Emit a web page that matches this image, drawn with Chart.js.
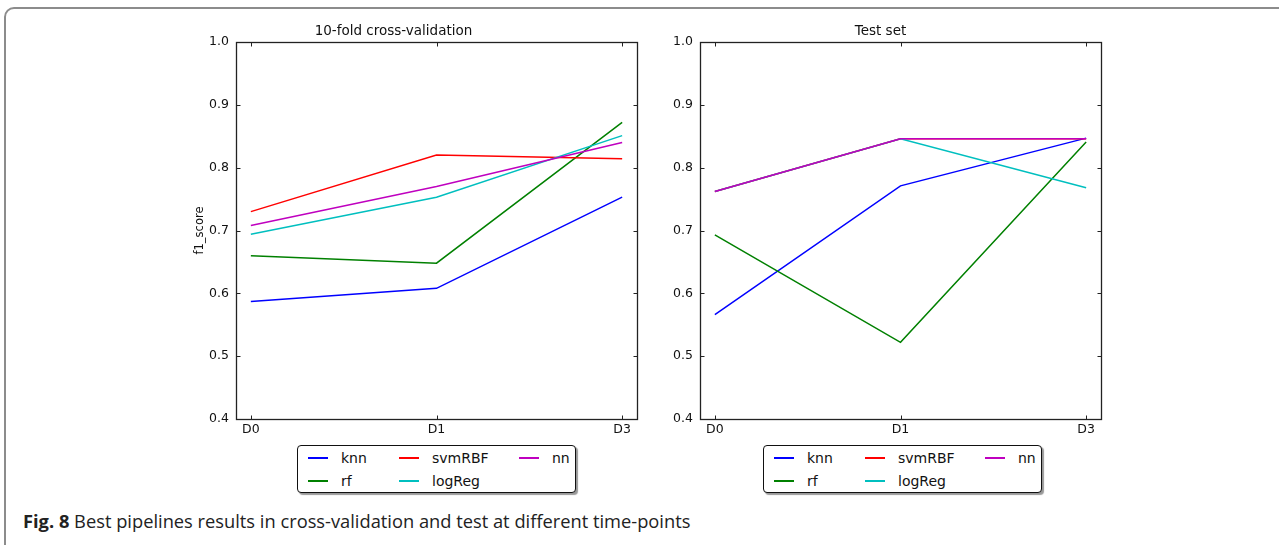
<!DOCTYPE html>
<html>
<head>
<meta charset="utf-8">
<script src="https://cdn.jsdelivr.net/npm/chart.js@4.4.1/dist/chart.umd.min.js"></script>
<style>
  body { margin: 0; background: #fff; width: 1279px; height: 545px; overflow: hidden; position: relative; font-family: "DejaVu Sans", sans-serif; }
  .frame { position: absolute; left: 4px; top: 7px; width: 1400px; height: 700px; border: 2px solid #8c8c8c; border-radius: 10px; }
  .wrap { position: absolute; top: 0; }
  .legend { position: absolute; top: 445px; width: 277px; height: 46px; border: 1px solid #111; border-radius: 4px; background: #fff; box-shadow: 2px 2px 1px rgba(0,0,0,.4); font-size: 14px; color: #111; }
  .item { position: absolute; height: 18px; line-height: 18px; white-space: nowrap; }
  .item .ln { position: absolute; left: 0; top: 8px; width: 20px; height: 2px; }
  .item span { position: absolute; left: 33px; top: 0; }
  .caption { position: absolute; left: 23px; top: 511px; font-family: "Open Sans", sans-serif; font-size: 18.3px; line-height: 20px; color: #222; white-space: nowrap; }
</style>
</head>
<body>
<div class="frame"></div>
<div class="wrap" style="left:150px;width:500px;height:440px"><canvas id="cvChart" width="500" height="440"></canvas></div>
<div class="wrap" style="left:660px;width:455px;height:440px"><canvas id="testChart" width="455" height="440"></canvas></div>
<div class="legend" id="legendCv" style="left:297px"></div>
<div class="legend" id="legendTest" style="left:763px"></div>
<div class="caption"><b>Fig. 8</b> Best pipelines results in cross-validation and test at different time-points</div>

<script>
(function(){
  'use strict';

  var timePoints = ['D0', 'D1', 'D3'];
  var seriesNames = ['knn', 'rf', 'svmRBF', 'logReg', 'nn'];
  var seriesColors = ['#0000ff', '#008000', '#ff0000', '#00bfbf', '#bf00bf'];
  var yTicks = [0.4, 0.5, 0.6, 0.7, 0.8, 0.9, 1.0];

  // 10-fold cross-validation
  var cvKnn = [0.587, 0.608, 0.753];
  var cvRf = [0.660, 0.648, 0.872];
  var cvSvmRBF = [0.730, 0.820, 0.814];
  var cvLogReg = [0.694, 0.753, 0.851];
  var cvNn = [0.708, 0.770, 0.840];

  // test set
  var testKnn = [0.566, 0.771, 0.847];
  var testRf = [0.693, 0.522, 0.841];
  var testSvmRBF = [0.762, 0.846, 0.846];
  var testLogReg = [0.762, 0.846, 0.768];
  var testNn = [0.762, 0.846, 0.846];

  // matplotlib style box with inward ticks on all sides
  var mplFrame = {
    id: 'mplFrame',
    afterDraw: function(chart){
      var a = chart.chartArea, c = chart.ctx;
      var xs = chart.scales.x, ys = chart.scales.y;
      var l = Math.round(a.left) + 0.5, r = Math.round(a.right) + 0.5;
      var t = Math.round(a.top) + 0.5, b = Math.round(a.bottom) + 0.5;
      c.save();
      c.strokeStyle = '#222';
      c.lineWidth = 1.3;
      c.strokeRect(l, t, r - l, b - t);
      c.lineWidth = 1;
      c.beginPath();
      xs.ticks.forEach(function(tk){
        var px = Math.round(xs.getPixelForValue(tk.value)) + 0.5;
        c.moveTo(px, b); c.lineTo(px, b - 4);
        c.moveTo(px, t); c.lineTo(px, t + 4);
      });
      ys.ticks.forEach(function(tk){
        var py = Math.round(ys.getPixelForValue(tk.value)) + 0.5;
        c.moveTo(l, py); c.lineTo(l + 4, py);
        c.moveTo(r, py); c.lineTo(r - 4, py);
      });
      c.stroke();
      c.restore();
    }
  };

  function toPoints(arr){
    return arr.map(function(v, i){ return { x: i, y: v }; });
  }

  function makeChart(id, title, series, yAxisWidth, padRight, showYTitle){
    var datasets = series.map(function(vals, i){
      return {
        label: seriesNames[i],
        data: toPoints(vals),
        borderColor: seriesColors[i],
        backgroundColor: seriesColors[i],
        borderWidth: 1.5,
        pointRadius: 0,
        tension: 0,
        order: series.length - i
      };
    });
    return new Chart(document.getElementById(id), {
      type: 'line',
      data: { datasets: datasets },
      plugins: [mplFrame],
      options: {
        responsive: false,
        animation: false,
        layout: { padding: { top: 0, right: padRight, bottom: 0, left: 0 } },
        plugins: {
          legend: { display: false },
          tooltip: { enabled: false },
          title: {
            display: true, text: title, color: '#111',
            font: { family: 'DejaVu Sans', size: 13.5, weight: 'normal' },
            padding: { top: 23, bottom: 2.8 }
          }
        },
        scales: {
          x: {
            type: 'linear', min: -0.08, max: 2.08,
            grid: { display: false, drawTicks: false }, border: { display: false },
            afterBuildTicks: function(s){ s.ticks = timePoints.map(function(_, i){ return { value: i }; }); },
            afterFit: function(s){ s.height = 21; },
            ticks: {
              padding: 3, color: '#111', maxRotation: 0,
              font: { family: 'DejaVu Sans', size: 12.5 },
              callback: function(v){ return timePoints[v]; }
            }
          },
          y: {
            min: 0.4, max: 1.0,
            grid: { display: false, drawTicks: false }, border: { display: false },
            afterBuildTicks: function(s){ s.ticks = yTicks.map(function(v){ return { value: v }; }); },
            afterFit: function(s){ s.width = yAxisWidth; },
            title: {
              display: showYTitle, text: 'f1_score', color: '#111',
              font: { family: 'DejaVu Sans', size: 11.5 },
              padding: { top: 43, bottom: 0 }
            },
            ticks: {
              padding: 7, color: '#111',
              font: { family: 'DejaVu Sans', size: 12.5 },
              callback: function(v){ return Number(v).toFixed(1); }
            }
          }
        }
      }
    });
  }

  function buildLegend(chart, boxId){
    var box = document.getElementById(boxId);
    var colX = [10, 101, 221];
    var rowY = [3, 26];
    chart.data.datasets.forEach(function(ds, i){
      var item = document.createElement('div');
      item.className = 'item';
      item.style.left = colX[Math.floor(i / 2)] + 'px';
      item.style.top = rowY[i % 2] + 'px';
      var ln = document.createElement('div');
      ln.className = 'ln';
      ln.style.backgroundColor = ds.borderColor;
      var tx = document.createElement('span');
      tx.textContent = ds.label;
      item.appendChild(ln);
      item.appendChild(tx);
      box.appendChild(item);
    });
  }

  var cvChart = makeChart('cvChart', '10-fold cross-validation',
    [cvKnn, cvRf, cvSvmRBF, cvLogReg, cvNn], 86, 13, true);
  var testChart = makeChart('testChart', 'Test set',
    [testKnn, testRf, testSvmRBF, testLogReg, testNn], 40, 14, false);

  buildLegend(cvChart, 'legendCv');
  buildLegend(testChart, 'legendTest');
})();
</script>
</body>
</html>
